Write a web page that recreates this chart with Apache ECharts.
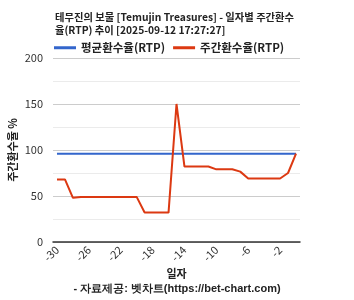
<!DOCTYPE html>
<html>
<head>
<meta charset="utf-8">
<script src="https://cdn.jsdelivr.net/npm/echarts@6/dist/echarts.min.js"></script>
<style>
  html, body { margin: 0; padding: 0; background: #fff; }
  #chart { width: 354px; height: 300px; }
</style>
</head>
<body>
<div id="chart"></div>
<script>
  // days relative to snapshot date
  var days = [];
  for (var d = -30; d <= 0; d++) days.push(String(d));

  var avgRtp = [96, 96, 96, 96, 96, 96, 96, 96, 96, 96, 96, 96, 96, 96, 96, 96,
                96, 96, 96, 96, 96, 96, 96, 96, 96, 96, 96, 96, 96, 96, 96];
  var weeklyRtp = [68, 68, 48, 49, 49, 49, 49, 49, 49, 49, 49, 32, 32, 32, 32, 150,
                   82, 82, 82, 82, 79, 79, 79, 76.5, 69, 69, 69, 69, 69, 75, 96];

  var yTicks = [0, 50, 100, 150, 200];

  var font = "'Noto Sans CJK KR', 'Noto Sans', sans-serif";
  var chart = echarts.init(document.getElementById("chart"), null, { renderer: "canvas" });

  chart.setOption({
    animation: false,
    textStyle: { fontFamily: font },
    title: {
      text: "테무진의 보물 [Temujin Treasures] - 일자별 주간환수\n율(RTP) 추이 [2025-09-12 17:27:27]",
      left: 50,
      top: 6,
      textStyle: { fontSize: 10.3, fontWeight: "bold", color: "#222", lineHeight: 12.5, fontFamily: font }
    },
    legend: {
      data: ["평균환수율(RTP)", "주간환수율(RTP)"],
      left: 49,
      top: 37,
      itemWidth: 22,
      itemHeight: 3,
      itemGap: 8,
      icon: "rect",
      textStyle: { fontSize: 11.5, fontWeight: "bold", color: "#222", fontFamily: font }
    },
    grid: { left: 53, right: 54, top: 58, bottom: 58, outerBoundsMode: "none" },
    xAxis: {
      type: "category",
      data: days,
      boundaryGap: true,
      name: "일자",
      nameLocation: "middle",
      nameGap: 26,
      nameMoveOverlap: false,
      nameTextStyle: { fontSize: 11, fontWeight: "bold", color: "#222" },
      axisLine: { lineStyle: { color: "#333", width: 1.5 } },
      axisTick: { show: false },
      axisLabel: { interval: 3, rotate: 45, fontSize: 11, color: "#333", margin: 6 }
    },
    yAxis: {
      type: "value",
      min: yTicks[0],
      max: yTicks[yTicks.length - 1],
      interval: 50,
      name: "주간환수율 %",
      nameLocation: "middle",
      nameGap: 35,
      nameMoveOverlap: false,
      nameTextStyle: { fontSize: 11, fontWeight: "bold", color: "#222" },
      axisLine: { show: false },
      axisTick: { show: false },
      axisLabel: { fontSize: 11, color: "#333", margin: 10 },
      splitLine: { lineStyle: { color: "#ccc" } },
      minorTick: { show: false, splitNumber: 2 },
      minorSplitLine: { show: true, lineStyle: { color: "#ebebeb" } }
    },
    series: [
      {
        name: "평균환수율(RTP)",
        type: "line",
        data: avgRtp,
        showSymbol: false,
        color: "#3366cc",
        lineStyle: { width: 2, color: "#3366cc" }
      },
      {
        name: "주간환수율(RTP)",
        type: "line",
        data: weeklyRtp,
        showSymbol: false,
        color: "#dc3912",
        lineStyle: { width: 2, color: "#dc3912" }
      }
    ],
    graphic: [{
      type: "text",
      left: "center",
      top: 283,
      style: { text: "- 자료제공: 벳차트(https://bet-chart.com)", fontSize: 11, fontWeight: "bold", fill: "#222", font: "bold 11px " + font }
    }]
  });
</script>
</body>
</html>
